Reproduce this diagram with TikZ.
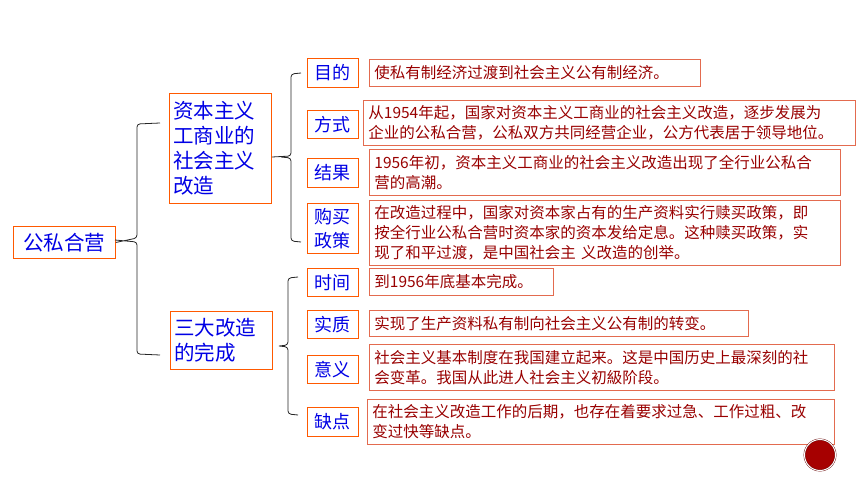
\documentclass[tikz,border=0pt]{standalone}
\usepackage{fontspec}
\newfontfamily\cjk{Noto Sans CJK SC}
\begin{document}
\begin{tikzpicture}[x=1pt,y=-1pt,
  lab/.style={draw=orange!70!red, line width=0.9pt, text=blue!90!black, font=\cjk\fontsize{18}{24}\selectfont, align=center, inner sep=0pt, anchor=north west},
  big/.style={draw=orange!70!red, line width=0.9pt, text=blue!90!black, font=\cjk\fontsize{20.5}{25}\selectfont, align=left, inner sep=0pt, anchor=north west},
  txt/.style={draw=red!45!brown!80, line width=0.8pt, text=red!60!black, font=\cjk\fontsize{15.5}{20}\selectfont, align=left, inner xsep=5pt, inner ysep=0pt, anchor=north west},
  br/.style={draw=black!85, line width=0.8pt, rounded corners=3pt}]
\useasboundingbox (0,0) rectangle (860,484);
\fill[white] (0,0) rectangle (860,484);
\node[big, minimum width=102pt, minimum height=32pt, align=center] (gs) at (13,226) {公私合营};
\node[big, minimum width=102pt, minimum height=110pt, text width=94pt] (zb) at (169,93) {资本主义\\工商业的\\社会主义\\改造};
\node[big, minimum width=102pt, minimum height=58pt, text width=94pt] (sd) at (170,311) {三大改造\\的完成};
\node[lab, minimum width=51pt, minimum height=29pt] (a1) at (307,58) {目的};
\node[lab, minimum width=51pt, minimum height=28pt] (a2) at (307,110) {方式};
\node[lab, minimum width=51pt, minimum height=29pt] (a3) at (307,158) {结果};
\node[lab, minimum width=51pt, minimum height=50pt] (a4) at (307,203) {购买\\政策};
\node[lab, minimum width=51pt, minimum height=28pt] (b1) at (307,268) {时间};
\node[lab, minimum width=51pt, minimum height=28pt] (b2) at (307,310) {实质};
\node[lab, minimum width=51pt, minimum height=28pt] (b3) at (307,355) {意义};
\node[lab, minimum width=51pt, minimum height=29pt] (b4) at (307,407) {缺点};
\node[txt, minimum width=331pt, minimum height=27pt, text width=321pt] (t1) at (369,59) {使私有制经济过渡到社会主义公有制经济。};
\node[txt, minimum width=492pt, minimum height=45pt, text width=482pt] (t2) at (363,100) {从1954年起，国家对资本主义工商业的社会主义改造，逐步发展为\\企业的公私合营，公私双方共同经营企业，公方代表居于领导地位。};
\node[txt, minimum width=471pt, minimum height=46pt, text width=461pt] (t3) at (369,149) {1956年初，资本主义工商业的社会主义改造出现了全行业公私合\\营的高潮。};
\node[txt, minimum width=471pt, minimum height=65pt, text width=461pt] (t4) at (369,200) {在改造过程中，国家对资本家占有的生产资料实行赎买政策，即\\按全行业公私合营时资本家的资本发给定息。这种赎买政策，实\\现了和平过渡，是中国社会主\ 义改造的创举。};
\node[txt, minimum width=184pt, minimum height=27pt, text width=174pt] (u1) at (369,268) {到1956年底基本完成。};
\node[txt, minimum width=379pt, minimum height=26pt, text width=369pt] (u2) at (369,310) {实现了生产资料私有制向社会主义公有制的转变。};
\node[txt, minimum width=465pt, minimum height=46pt, text width=455pt] (u3) at (369,344) {社会主义基本制度在我国建立起来。这是中国历史上最深刻的社\\会变革。我国从此进人社会主义初級阶段。};
\node[txt, minimum width=467pt, minimum height=45pt, text width=457pt] (u4) at (367,399) {在社会主义改造工作的后期，也存在着要求过急、工作过粗、改\\变过快等缺点。};
% braces
\draw[br] (160,123) -- (137,124) -- (137,238) -- (gs.east) (115,240) -- (137,242) -- (137,354) -- (160,355);
\draw[br] (301,73) -- (291,74) -- (291,156) -- (zb.east|-0,157) (281,157) -- (291,158) -- (291,241) -- (301,242);
\draw[br] (298,277) -- (288,278) -- (288,345) -- (279,346) (279,346) -- (288,347) -- (288,414) -- (298,415);
\node[circle, fill=red!65!black, draw=red!40!black, double=white, double distance=1pt, minimum size=31pt, inner sep=0pt] (c) at (820,455) {};
\end{tikzpicture}
\end{document}
